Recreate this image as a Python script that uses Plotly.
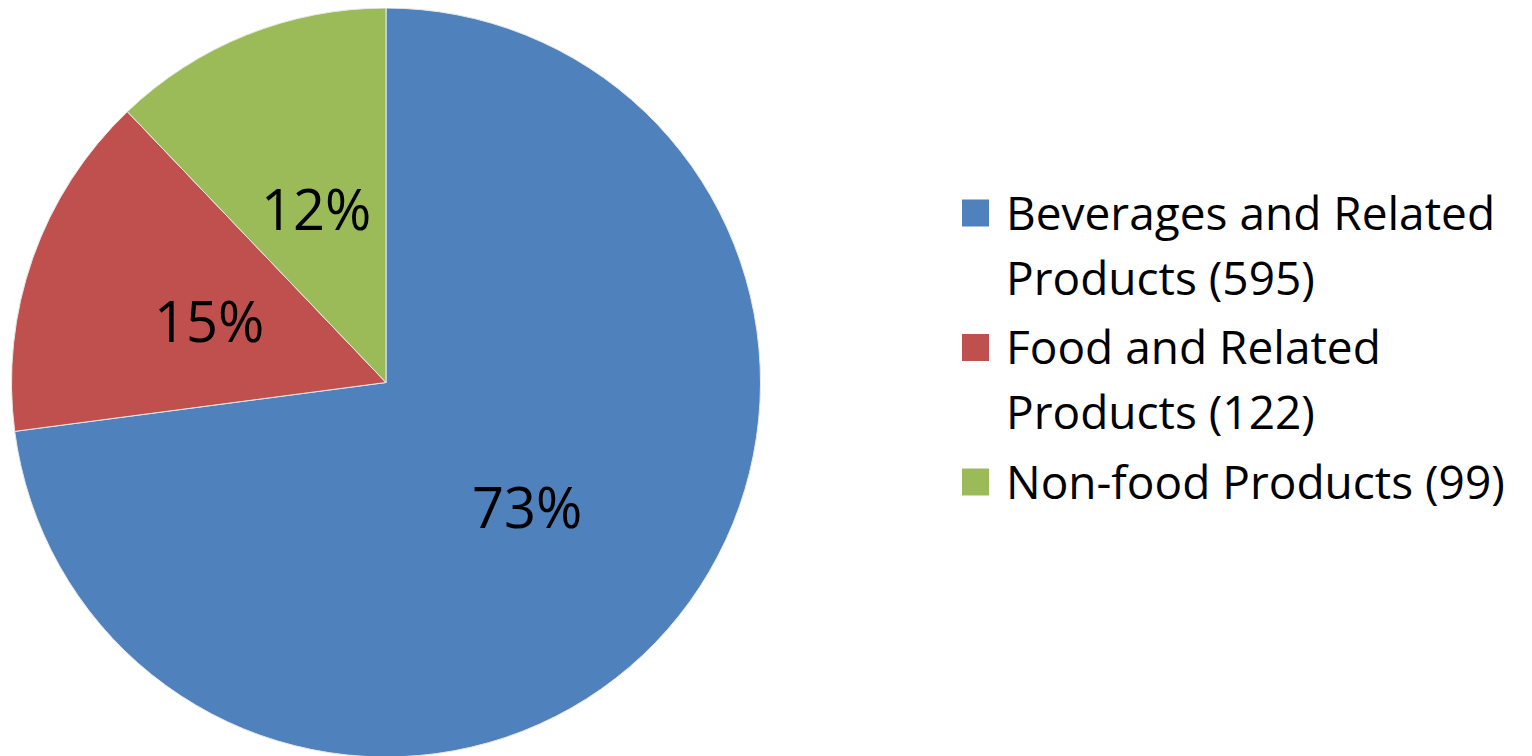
import math
import plotly.graph_objects as go

# ---- data ----
categories = ["Beverages and Related Products", "Food and Related Products", "Non-food Products"]
legend_lines = [["Beverages and Related", "Products (595)"],
                ["Food and Related", "Products (122)"],
                ["Non-food Products (99)"]]
values = [595, 122, 99]
colors = ["#4F81BD", "#C0504D", "#9BBB59"]

FONT = "Open Sans"
W, H = 1532, 756
OFF = 8  # page body margin offset


def px_x(x):
    return (x - OFF) / W


def px_y(y):
    return 1 - (y - OFF) / H


# pie geometry (page pixels)
CX, CY, R = 386, 382, 375
dom_x = [px_x(CX - R), px_x(CX + R)]
dom_y = [max(0, px_y(CY + R)), min(1, px_y(CY - R))]

fig = go.Figure(go.Pie(
    labels=categories,
    values=values,
    sort=False,
    direction="clockwise",
    rotation=0,
    marker=dict(colors=colors, line=dict(color="#E8E8E8", width=1)),
    textinfo="none",
    domain=dict(x=dom_x, y=dom_y),
    showlegend=False,
    hovertemplate="%{label}: %{value} (%{percent})<extra></extra>",
))

# percentage labels at half radius, mid-angle of each slice
total = sum(values)
cum = 0
annotations = []
for v in values:
    theta = 2 * math.pi * (cum + v / 2) / total
    cum += v
    x = CX + 0.5 * R * math.sin(theta)
    y = CY - 0.5 * R * math.cos(theta)
    annotations.append(dict(
        x=px_x(x), y=px_y(y), xref="paper", yref="paper",
        text=f"{v / total:.0%}", showarrow=False,
        xanchor="center", yanchor="middle",
        font=dict(family=FONT, size=56, color="black"),
    ))

# custom legend (large square keys)
shapes = []
LX_SQ, SQ = 962, 27
LX_TXT = 1004
y_line = 211.5
LINE_STEP, ITEM_GAP = 65, 4.5
for lines, col in zip(legend_lines, colors):
    sq_cy = y_line + 1.5
    shapes.append(dict(
        type="rect", xref="paper", yref="paper",
        x0=px_x(LX_SQ), x1=px_x(LX_SQ + SQ),
        y0=px_y(sq_cy + SQ / 2), y1=px_y(sq_cy - SQ / 2),
        fillcolor=col, line=dict(width=0),
    ))
    for ln in lines:
        annotations.append(dict(
            x=px_x(LX_TXT), y=px_y(y_line), xref="paper", yref="paper",
            text=ln, showarrow=False, xanchor="left", yanchor="middle",
            font=dict(family=FONT, size=46, color="black"),
        ))
        y_line += LINE_STEP
    y_line += ITEM_GAP

fig.update_layout(
    width=W, height=H,
    margin=dict(l=0, r=0, t=0, b=0),
    paper_bgcolor="white",
    plot_bgcolor="white",
    annotations=annotations,
    shapes=shapes,
)

fig.write_html("out.html")
